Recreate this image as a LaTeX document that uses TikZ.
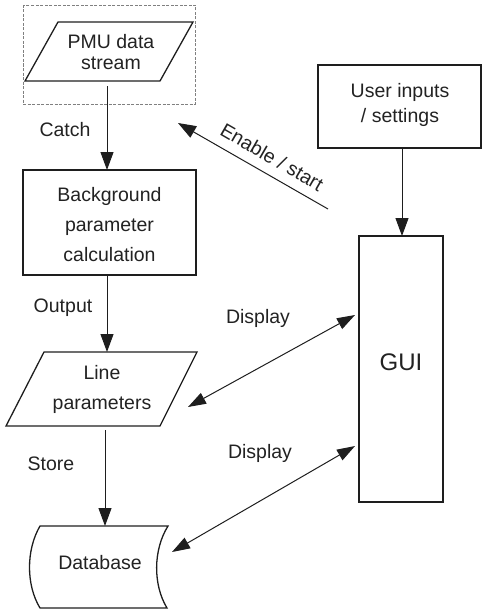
\documentclass[tikz,border=0pt]{standalone}
\usepackage{fontspec}
\setmainfont{Liberation Sans}
\usetikzlibrary{arrows.meta}
\definecolor{ink}{HTML}{1E1E1E}
\definecolor{txt}{HTML}{222222}
\begin{document}
\begin{tikzpicture}[x=1pt,y=-1pt,
  shapeline/.style={draw=ink,line width=1.3pt,line join=miter},
  conn/.style={draw=ink,line width=1pt,-{Triangle[length=18pt,width=13pt]}},
  biconn/.style={draw=ink,line width=1pt,{Triangle[length=18pt,width=12pt]}-{Triangle[length=18pt,width=12pt]}},
  lbl/.style={text=txt,font=\fontsize{19.5}{24}\selectfont,inner sep=0pt},
  boxtext/.style={text=txt,align=center,inner sep=0pt}
]
\useasboundingbox (0,0) rectangle (482,610);

% dashed frame round the PMU data stream
\draw[gray,line width=0.8pt,dash pattern=on 3pt off 1.5pt] (23,5) rectangle (195,104);

% PMU data stream (parallelogram)
\draw[shapeline] (58,22) -- (193,22) -- (160,81) -- (25,81) -- cycle;
\node[boxtext,font=\fontsize{19.5}{21}\selectfont] (pmu) at (111,52) {PMU data\\stream};

% Background parameter calculation
\draw[shapeline] (23,170) rectangle (196,275);
\node[boxtext,font=\fontsize{19.5}{30}\selectfont] (bg) at (109.5,225) {Background\\parameter\\calculation};

% Line parameters (parallelogram)
\draw[shapeline] (44,352) -- (197,352) -- (160,426) -- (6,426) -- cycle;
\node[boxtext,font=\fontsize{19.5}{30}\selectfont] (lp) at (102,389) {Line\\parameters};

% Database (stored data)
\draw[shapeline] (40,526) -- (168,526) .. controls (153,550) and (153,585) .. (167,608) -- (40,608) .. controls (26,585) and (26,550) .. (40,526) -- cycle;
\node[boxtext,font=\fontsize{19.5}{24}\selectfont] (db) at (100,563) {Database};

% User inputs / settings
\draw[shapeline] (318,65) rectangle (481,148);
\node[boxtext,font=\fontsize{19.5}{25}\selectfont] (ui) at (400,105) {User inputs\\/ settings};

% GUI
\draw[shapeline] (359,236) rectangle (443,502);
\node[boxtext,font=\fontsize{24}{28}\selectfont] (gui) at (401,362) {GUI};

% connector end points
\coordinate (pmuB) at (107,86);
\coordinate (bgT) at (107,170);
\coordinate (bgB) at (107,276);
\coordinate (lpT) at (107,352);
\coordinate (lpB) at (105,430);
\coordinate (dbT) at (105,526);
\coordinate (uiB) at (402,148);
\coordinate (guiT) at (402,236);
\coordinate (enTail) at (328,209);
\coordinate (enTip) at (178,123);
\coordinate (lpR) at (188,407);
\coordinate (guiL1) at (355,315);
\coordinate (dbR) at (172,552);
\coordinate (guiL2) at (355,446);

% connectors
\draw[conn] (pmuB) -- (bgT);
\draw[conn] (bgB) -- (lpT);
\draw[conn] (lpB) -- (dbT);
\draw[conn] (uiB) -- (guiT);
\draw[conn] (enTail) -- (enTip);
\draw[biconn] (lpR) -- (guiL1);
\draw[biconn] (dbR) -- (guiL2);

% labels
\node[lbl] (catch) at (65,130) {Catch};
\node[lbl] (output) at (63,308) {Output};
\node[lbl] (store) at (51,464) {Store};
\node[lbl] (disp1) at (258,318) {Display};
\node[lbl] (disp2) at (260,453) {Display};
\node[lbl,rotate=-30] (enable) at (272,157) {Enable / start};
\end{tikzpicture}
\end{document}
